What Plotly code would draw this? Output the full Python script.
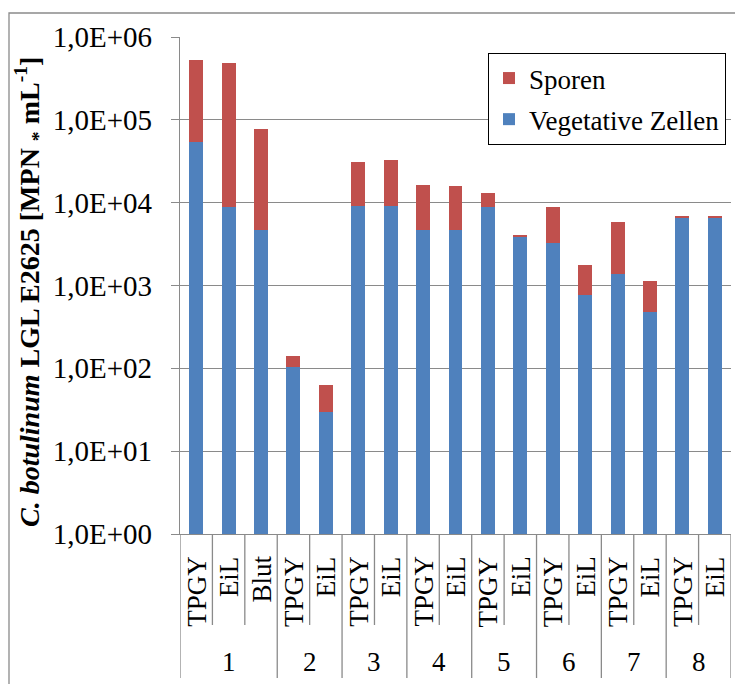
import plotly.graph_objects as go

# ---- data ----
groups = ["1", "1", "1", "2", "2", "3", "3", "4", "4", "5", "5", "6", "6", "7", "7", "8", "8"]
labels = ["TPGY", "EiL", "Blut", "TPGY", "EiL", "TPGY", "EiL", "TPGY", "EiL",
          "TPGY", "EiL", "TPGY", "EiL", "TPGY", "EiL", "TPGY", "EiL"]
vegetative = [54000, 8800, 4700, 104, 29.5, 9200, 9200, 4700, 4700,
              8800, 3880, 3300, 760, 1360, 480, 6600, 6600]
sporen = [476000, 476000, 73800, 36, 33, 21800, 23400, 11800, 11200,
          4200, 220, 5500, 1010, 4440, 660, 250, 250]
tick_vals = [1, 10, 100, 1000, 10000, 100000, 1000000]
tick_text = ["1,0E+00", "1,0E+01", "1,0E+02", "1,0E+03", "1,0E+04", "1,0E+05", "1,0E+06"]

FONT = "Liberation Serif"
GRID = "#8a8a8a"
BLUE = "#4F81BD"
RED = "#C0504D"

n = len(labels)
xpos = list(range(n))

fig = go.Figure()
fig.add_bar(x=xpos, y=vegetative, name="Vegetative Zellen", marker=dict(color=BLUE, line=dict(width=0)),
            width=0.43, legendgroup="v", legendrank=2)
fig.add_bar(x=xpos, y=sporen, name="Sporen", marker=dict(color=RED, line=dict(width=0)),
            width=0.43, legendgroup="s", legendrank=1)

# the page body has an 8px margin; all target positions below are page pixels
OFF = 8
W, H = 743, 684
PL, PR, PT, PB = 180, 731, 37, 534          # plot area in page pixels
L, T = PL - OFF, PT - OFF
R = W - (PR - OFF)
B = H - (PB - OFF)
plot_h = PB - PT
plot_w = PR - PL

def py(pix):  # page pixel y -> paper y
    return (PB - pix) / plot_h

def px(pix):  # page pixel x -> paper x
    return (pix - PL) / plot_w

shapes = []
annotations = []

# separators below the category axis
for k in range(n + 1):
    is_group = k == 0 or k == n or groups[k] != groups[k - 1]
    shapes.append(dict(type="line", xref="x", yref="paper", x0=k - 0.5, x1=k - 0.5,
                       y0=0, y1=py(678) if is_group else py(625),
                       line=dict(color=GRID, width=1.3)))

# inner (rotated) labels
for i, lab in enumerate(labels):
    annotations.append(dict(x=i, y=0, xref="x", yref="paper", text=lab, showarrow=False,
                            textangle=-90, xanchor="center", yanchor="top", yshift=-20,
                            font=dict(family=FONT, size=27, color="black")))

# group labels
seen = []
for g in groups:
    if g not in seen:
        seen.append(g)
for g in seen:
    idx = [i for i, gg in enumerate(groups) if gg == g]
    annotations.append(dict(x=sum(idx) / len(idx), y=py(662), xref="x", yref="paper", text=g,
                            showarrow=False, xanchor="center", yanchor="middle",
                            font=dict(family=FONT, size=27, color="black")))

# y-axis title
annotations.append(dict(x=px(29), y=py(292), xref="paper", yref="paper", showarrow=False,
                        textangle=-90, xanchor="center", yanchor="middle",
                        text="<b><i>C. botulinum</i> LGL E2625 [MPN <sub>*</sub> mL<sup>-1</sup>]</b>",
                        font=dict(family=FONT, size=28, color="black")))

# chart area border
shapes.append(dict(type="rect", xref="paper", yref="paper", x0=px(9), x1=px(760),
                   y0=py(700), y1=py(13), line=dict(color=GRID, width=1.3), layer="below"))

fig.update_layout(
    width=W, height=H,
    margin=dict(l=L, r=R, t=T, b=B),
    paper_bgcolor="white", plot_bgcolor="white",
    barmode="stack",
    font=dict(family=FONT, size=27, color="black"),
    xaxis=dict(range=[-0.5, n - 0.5], showticklabels=False, showgrid=False, zeroline=False,
               showline=True, linecolor=GRID, linewidth=1.3, ticks=""),
    yaxis=dict(type="log", range=[0, 6], tickvals=tick_vals, ticktext=tick_text,
               ticks="outside", ticklen=8, tickcolor=GRID, tickwidth=1.3,
               showline=True, linecolor=GRID, linewidth=1.3,
               showgrid=True, gridcolor=GRID, gridwidth=1.3, zeroline=False,
               ticklabelstandoff=13,
               tickfont=dict(family=FONT, size=29, color="black")),
    legend=dict(x=px(726), xanchor="right", y=py(53), yanchor="top",
                bgcolor="white", bordercolor="black", borderwidth=1,
                font=dict(family=FONT, size=27, color="black"),
                traceorder="grouped", tracegroupgap=3),
    shapes=shapes,
    annotations=annotations,
)

fig.write_html("out.html")
